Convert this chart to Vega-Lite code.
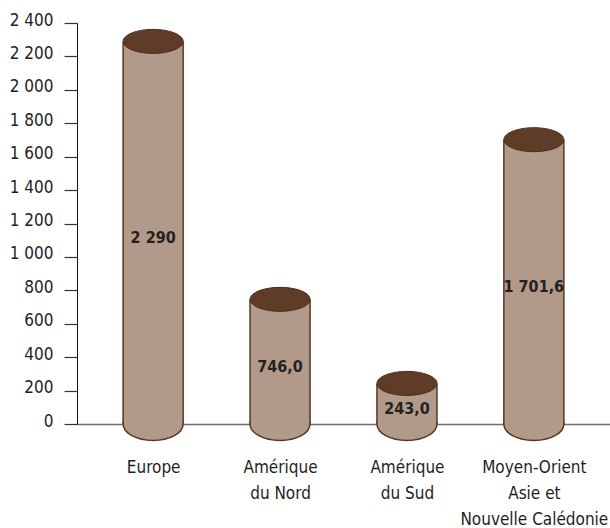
{
  "$schema": "https://vega.github.io/schema/vega-lite/v6.json",
  "width": 533,
  "height": 401,
  "autosize": {"type": "none"},
  "padding": {"left": 77, "top": 23, "right": 0, "bottom": 104},
  "background": "white",
  "config": {
    "view": {"stroke": null},
    "font": "DejaVu Sans Condensed, Liberation Sans, sans-serif"
  },
  "data": {
    "values": [
      {"region": "Europe", "value": 2290, "label": "2 290"},
      {"region": "Amérique\ndu Nord", "value": 746.0, "label": "746,0"},
      {"region": "Amérique\ndu Sud", "value": 243.0, "label": "243,0"},
      {"region": "Moyen-Orient\nAsie et\nNouvelle Calédonie", "value": 1701.6, "label": "1 701,6"}
    ]
  },
  "encoding": {
    "x": {
      "field": "region",
      "type": "nominal",
      "sort": null,
      "scale": {"type": "point", "padding": 0.6},
      "axis": {
        "title": null,
        "labelAngle": 0,
        "ticks": false,
        "domainColor": "#6e6e6e",
        "domainWidth": 1.5,
        "labelFontSize": 17,
        "labelPadding": 35,
        "labelBaseline": "top",
        "labelLineHeight": 26,
        "labelColor": "#1e1e1e",
        "labelLimit": 300,
        "labelExpr": "split(datum.label, '\\n')"
      }
    }
  },
  "layer": [
    {
      "encoding": {
        "y": {
          "field": "value",
          "type": "quantitative",
          "scale": {"domain": [0, 2400], "nice": false},
          "axis": {
            "title": null,
            "values": [0, 200, 400, 600, 800, 1000, 1200, 1400, 1600, 1800, 2000, 2200, 2400],
            "grid": false,
            "domainColor": "#111111",
            "domainWidth": 1,
            "tickSize": 13,
            "tickColor": "#333333",
            "tickWidth": 1.2,
            "labelFontSize": 17,
            "labelPadding": 11,
            "labelColor": "#1e1e1e",
            "labelOffset": -3,
            "labelExpr": "replace(format(datum.value, ','), ',', ' ')"
          }
        }
      },
      "layer": [
        {
          "mark": {
            "type": "point",
            "shape": "M -1 0 A 1 0.55 0 0 0 1 0 A 1 0.55 0 0 0 -1 0 Z",
            "size": 3600,
            "filled": true,
            "fill": "#b29a8a",
            "stroke": "#5a3520",
            "strokeWidth": 1.5,
            "opacity": 1
          },
          "encoding": {"y": {"datum": 0}}
        },
        {
          "mark": {"type": "bar", "width": 60, "fill": "#b29a8a", "stroke": null}
        },
        {
          "mark": {"type": "rule", "xOffset": -30, "stroke": "#5a3520", "strokeWidth": 1.5},
          "encoding": {"y2": {"datum": 0}}
        },
        {
          "mark": {"type": "rule", "xOffset": 30, "stroke": "#5a3520", "strokeWidth": 1.5},
          "encoding": {"y2": {"datum": 0}}
        },
        {
          "mark": {
            "type": "point",
            "shape": "M -1 0 A 1 0.4 0 0 0 1 0 A 1 0.4 0 0 0 -1 0 Z",
            "size": 3600,
            "filled": true,
            "fill": "#5e3c28",
            "stroke": "#4e2e1a",
            "strokeWidth": 1,
            "opacity": 1
          }
        }
      ]
    },
    {
      "mark": {
        "type": "text",
        "fontSize": 16,
        "fontWeight": "bold",
        "color": "#222222",
        "baseline": "middle",
        "dy": 5
      },
      "encoding": {
        "y": {
          "field": "value",
          "type": "quantitative",
          "scale": {"domain": [0, 4800], "nice": false},
          "axis": null
        },
        "text": {"field": "label"}
      }
    }
  ],
  "resolve": {"scale": {"y": "independent"}}
}
